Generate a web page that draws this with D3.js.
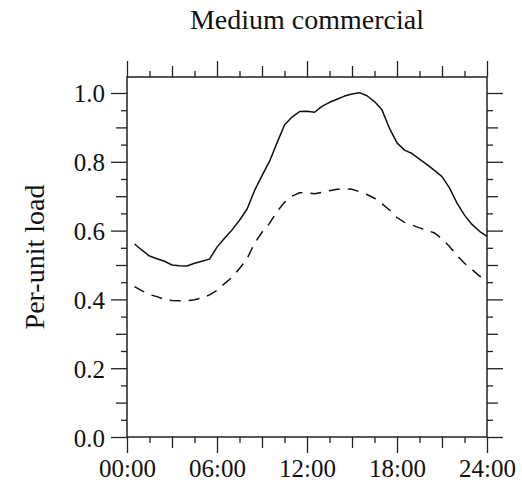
<!DOCTYPE html>
<html>
<head>
<meta charset="utf-8">
<script src="https://cdn.jsdelivr.net/npm/d3@7"></script>
<style>
  html, body { margin: 0; padding: 0; background: #fff; }
  svg { display: block; }
  text { font-family: "Liberation Serif", "Times New Roman", serif; fill: #111; }
</style>
</head>
<body>
<svg id="chart" width="522" height="483"></svg>
<script>
const title = "Medium commercial";
const yLabel = "Per-unit load";
const hours = [0.5,1,1.5,2,2.5,3,3.5,4,4.5,5,5.5,6,6.5,7,7.5,8,8.5,9,9.5,10,10.5,11,11.5,12,
  12.5,13,13.5,14,14.5,15,15.5,16,16.5,17,17.5,18,18.5,19,19.5,20,20.5,21,21.5,22,22.5,23,23.5,24];
const peakLoad = [0.561,0.543,0.526,0.518,0.511,0.500,0.498,0.497,0.505,0.511,0.517,0.552,0.578,0.602,0.630,0.662,
  0.716,0.760,0.801,0.855,0.907,0.930,0.946,0.947,0.944,0.961,0.973,0.982,0.991,0.997,1.001,0.992,
  0.975,0.951,0.897,0.855,0.834,0.824,0.808,0.792,0.775,0.757,0.724,0.680,0.645,0.618,0.598,0.583];
const avgLoad = [0.437,0.425,0.414,0.408,0.400,0.397,0.396,0.396,0.399,0.404,0.413,0.426,0.446,0.464,0.490,0.518,
  0.563,0.595,0.621,0.655,0.682,0.700,0.710,0.710,0.707,0.711,0.716,0.720,0.721,0.720,0.713,0.705,
  0.694,0.678,0.660,0.638,0.624,0.616,0.608,0.601,0.593,0.576,0.554,0.528,0.505,0.487,0.468,0.457];
const xTickHours = [0, 6, 12, 18, 24];
const xTickLabels = ["00:00", "06:00", "12:00", "18:00", "24:00"];
const yTickValues = [0.0, 0.2, 0.4, 0.6, 0.8, 1.0];

const svg = d3.select("#chart");
const pLeft = 127, pRight = 487, pTop = 77, pBottom = 437;
const x = d3.scaleLinear().domain([0, 24]).range([pLeft, pRight]);
const y = d3.scaleLinear().domain([0, 1.0465]).range([pBottom, pTop]);
const ink = "#222";

// tick helpers (three levels)
const xMajor = xTickHours, xMid = [3, 9, 15, 21], xMinor = d3.range(1.5, 24, 3);
const yMajor = yTickValues, yMid = [0.1, 0.3, 0.5, 0.7, 0.9], yMinor = d3.range(0.05, 1.04, 0.1);
const L = {major: 16, mid: 11, minor: 6};

function addTicks(g, axisFn, vals, len, labels) {
  const ax = axisFn.tickValues(vals).tickSize(len).tickSizeOuter(0)
    .tickFormat(labels ? (d, i) => labels[i] : () => "");
  g.call(ax);
  g.select(".domain").remove();
  g.selectAll("line").attr("stroke", ink).attr("stroke-width", 1.3);
}

[[xMajor, L.major, xTickLabels], [xMid, L.mid, null], [xMinor, L.minor, null]].forEach(([v, len, lab]) => {
  const gb = svg.append("g").attr("transform", `translate(0,${pBottom})`);
  addTicks(gb, d3.axisBottom(x), v, len, lab);
  gb.selectAll("text").attr("font-size", 25).attr("dy", "1.05em").attr("y", len - 2)
    .attr("font-family", "Liberation Serif").attr("fill", "#111");
  const gt = svg.append("g").attr("transform", `translate(0,${pTop})`);
  addTicks(gt, d3.axisTop(x), v, len, null);
});
[[yMajor, L.major, yTickValues.map(d => d.toFixed(1))], [yMid, L.mid, null], [yMinor, L.minor, null]].forEach(([v, len, lab]) => {
  const gl = svg.append("g").attr("transform", `translate(${pLeft},0)`);
  addTicks(gl, d3.axisLeft(y), v, len, lab);
  gl.selectAll("text").attr("font-size", 25).attr("x", -22).attr("dy", "0.36em")
    .attr("font-family", "Liberation Serif").attr("fill", "#111");
  const gr = svg.append("g").attr("transform", `translate(${pRight},0)`);
  addTicks(gr, d3.axisRight(y), v, len, null);
});

// frame
svg.append("rect").attr("x", pLeft).attr("y", pTop).attr("width", pRight - pLeft).attr("height", pBottom - pTop)
  .attr("fill", "none").attr("stroke", ink).attr("stroke-width", 1.5);

const line = d3.line().x((d, i) => x(hours[i])).y(d => y(d));
svg.append("path").datum(peakLoad).attr("d", line).attr("fill", "none")
  .attr("stroke", "#111").attr("stroke-width", 1.5).attr("stroke-linejoin", "round");
svg.append("path").datum(avgLoad).attr("d", line).attr("fill", "none")
  .attr("stroke", "#111").attr("stroke-width", 1.5).attr("stroke-dasharray", "11,8");

svg.append("text").attr("x", (pLeft + pRight) / 2).attr("y", 29).attr("text-anchor", "middle")
  .attr("font-size", 28).text(title);
svg.append("text").attr("transform", `translate(44,${(pTop + pBottom) / 2}) rotate(-90)`)
  .attr("text-anchor", "middle").attr("font-size", 28).text(yLabel);
</script>
</body>
</html>
